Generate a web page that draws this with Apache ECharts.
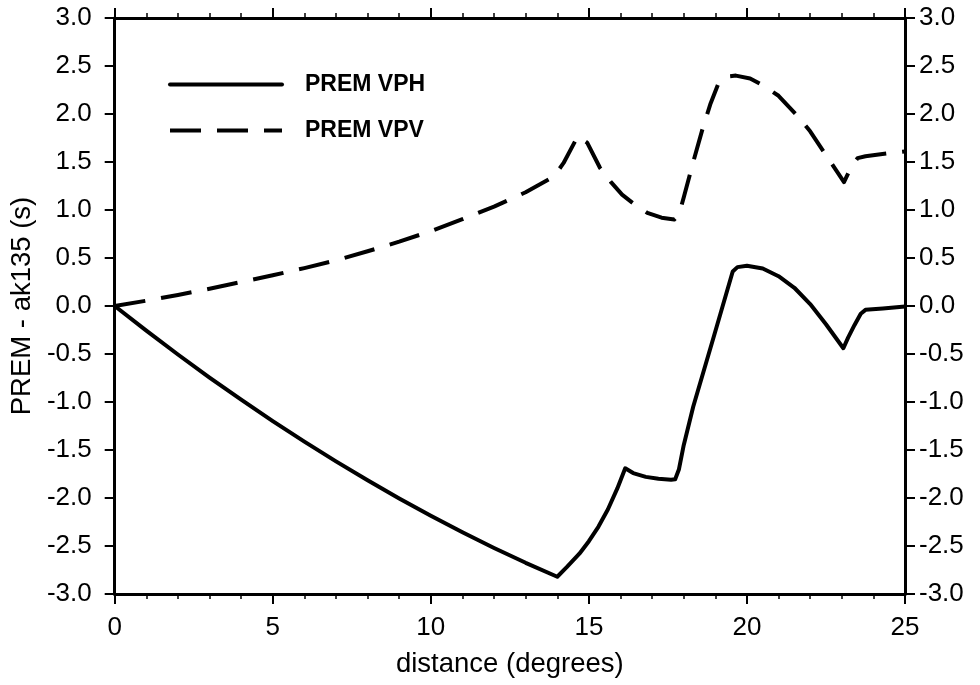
<!DOCTYPE html>
<html><head><meta charset="utf-8">
<script src="https://cdn.jsdelivr.net/npm/echarts@6/dist/echarts.min.js"></script>
<style>html,body{margin:0;padding:0;background:#fff}#c{width:980px;height:685px}</style>
</head><body><div id="c"></div>
<script>
const vphX = [0,1,2,3,4,5,6,7,8,9,10,11,12,13,14,14.3,14.7,15.0,15.3,15.6,15.9,16.15,16.4,16.8,17.2,17.6,17.73,17.85,18.0,18.3,18.95,19.55,19.7,20.0,20.5,21.0,21.5,22.0,22.5,23.05,23.2,23.4,23.6,23.75,24.3,25];
const vphY = [0,-0.257,-0.505,-0.745,-0.976,-1.199,-1.413,-1.619,-1.816,-2.005,-2.185,-2.357,-2.520,-2.675,-2.82,-2.72,-2.58,-2.45,-2.30,-2.12,-1.90,-1.69,-1.74,-1.78,-1.80,-1.81,-1.805,-1.70,-1.45,-1.05,-0.32,0.36,0.405,0.42,0.39,0.31,0.19,0.02,-0.19,-0.44,-0.33,-0.20,-0.08,-0.04,-0.025,-0.005];
const vpvX = [0,1,2,3,4,5,6,7,8,9,10,11,12,13,13.9,14.2,14.65,14.95,15.35,15.7,16.05,16.4,16.85,17.3,17.7,17.85,18.0,18.3,18.6,18.85,19.1,19.35,19.65,20.1,20.5,21.0,21.6,22.0,22.5,22.85,23.07,23.3,23.5,23.75,24.7,25];
const vpvY = [0,0.055,0.115,0.18,0.25,0.32,0.395,0.475,0.57,0.67,0.78,0.905,1.035,1.185,1.35,1.49,1.77,1.70,1.44,1.29,1.16,1.07,0.97,0.92,0.90,0.95,1.13,1.50,1.85,2.11,2.32,2.39,2.40,2.37,2.30,2.19,1.98,1.82,1.57,1.40,1.29,1.45,1.54,1.56,1.60,1.61];
const seriesNames = ['PREM VPH','PREM VPV'];
const xLabel = 'distance (degrees)';
const yLabel = 'PREM - ak135 (s)';

const FONT = 'Liberation Sans, Arial, Helvetica, sans-serif';
const pairs = (xs, ys) => xs.map((x, i) => [x, ys[i]]);
const DASH = [31, 16];

function xAx(pos, labels) {
  return {
    type: 'value', position: pos, min: 0, max: 25, interval: 5,
    axisLine: {show: true, onZero: false, lineStyle: {color: '#000', width: 3}},
    axisTick: {show: true, inside: false, length: 10, lineStyle: {color: '#000', width: 2}},
    minorTick: {show: true, splitNumber: 5, length: 5, lineStyle: {color: '#000', width: 1.5}},
    splitLine: {show: false},
    axisLabel: {show: labels, fontSize: 26, color: '#000', fontFamily: FONT, margin: 21, showMinLabel: true, showMaxLabel: true},
    name: labels ? xLabel : '', nameLocation: 'middle', nameGap: 56,
    nameTextStyle: {fontSize: 27.5, color: '#000', fontFamily: FONT}
  };
}
function yAx(pos, name) {
  return {
    type: 'value', position: pos, min: -3, max: 3, interval: 0.5,
    axisLine: {show: true, onZero: false, lineStyle: {color: '#000', width: 3}},
    axisTick: {show: true, inside: false, length: 10, lineStyle: {color: '#000', width: 2}},
    splitLine: {show: false},
    axisLabel: {fontSize: 26, color: '#000', fontFamily: FONT, margin: pos === 'left' ? 23 : 14,
      showMinLabel: true, showMaxLabel: true, formatter: v => v.toFixed(1)},
    name: name, nameLocation: 'middle', nameGap: 76, nameRotate: 90,
    nameTextStyle: {fontSize: 27.5, color: '#000', fontFamily: FONT}
  };
}

const chart = echarts.init(document.getElementById('c'), null, {renderer: 'canvas'});
chart.setOption({
  animation: false,
  backgroundColor: '#fff',
  grid: {left: 114, right: 75, top: 18, bottom: 91, containLabel: false},
  xAxis: [xAx('bottom', true), xAx('top', false)],
  yAxis: [yAx('left', yLabel), yAx('right', '')],
  legend: {
    orient: 'vertical', left: 168, top: 73, padding: 0,
    itemWidth: 112, itemHeight: 20, itemGap: 23,
    data: seriesNames,
    itemStyle: {color: 'rgba(0,0,0,0)', borderWidth: 0, opacity: 0},
    lineStyle: {width: 4, color: '#000'},
    textStyle: {fontSize: 23, fontWeight: 'bold', color: '#000', fontFamily: FONT, padding: [0, 0, 0, 18]}
  },
  series: [
    {name: seriesNames[0], type: 'line', xAxisIndex: 0, yAxisIndex: 0, showSymbol: false, symbol: 'none',
     data: pairs(vphX, vphY), lineStyle: {color: '#000', width: 4, join: 'round', cap: 'round'}, itemStyle: {color: '#000'}},
    {name: seriesNames[1], type: 'line', xAxisIndex: 0, yAxisIndex: 0, showSymbol: false, symbol: 'none',
     data: pairs(vpvX, vpvY), lineStyle: {color: '#000', width: 4, type: DASH, join: 'round', cap: 'butt'}, itemStyle: {color: '#000'}}
  ]
});
</script>
</body></html>
